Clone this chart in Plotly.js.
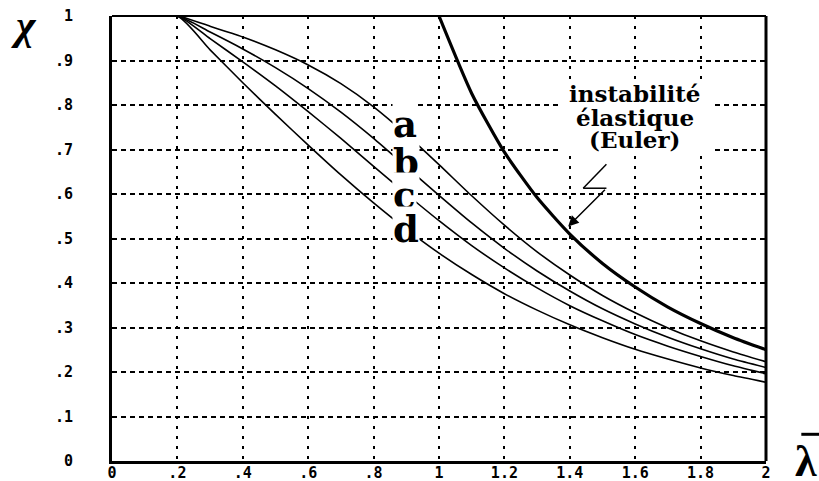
<!DOCTYPE html>
<html>
<head>
<meta charset="utf-8">
<script src="https://cdn.plot.ly/plotly-3.0.1.min.js"></script>
<style>html,body{margin:0;padding:0;background:#fff;}#chart{width:819px;height:481px;}</style>
</head>
<body>
<div id="chart"></div>
<script>
// Relative slenderness (lambda bar)
const lambdaVals = [0, 0.2, 0.3, 0.4, 0.5, 0.6, 0.7, 0.8, 0.9, 1.0, 1.1, 1.2, 1.3, 1.4, 1.5, 1.6, 1.7, 1.8, 1.9, 2.0];
// Reduction factor chi
const curveA = [1, 1, 0.977, 0.953, 0.924, 0.890, 0.848, 0.796, 0.734, 0.666, 0.596, 0.530, 0.470, 0.418, 0.372, 0.333, 0.299, 0.270, 0.245, 0.223];
const curveB = [1, 1, 0.964, 0.926, 0.884, 0.837, 0.784, 0.725, 0.661, 0.597, 0.535, 0.478, 0.427, 0.382, 0.342, 0.308, 0.278, 0.252, 0.229, 0.210];
const curveC = [1, 1, 0.949, 0.897, 0.843, 0.785, 0.725, 0.662, 0.600, 0.540, 0.484, 0.434, 0.389, 0.349, 0.315, 0.284, 0.258, 0.235, 0.214, 0.196];
const curveD = [1, 1, 0.924, 0.850, 0.779, 0.710, 0.643, 0.580, 0.521, 0.467, 0.419, 0.376, 0.339, 0.306, 0.277, 0.251, 0.229, 0.209, 0.192, 0.177];
// Euler elastic instability
const eulerLambda = [1.0, 1.1, 1.2, 1.3, 1.4, 1.5, 1.6, 1.7, 1.8, 1.9, 2.0];
const eulerChi = [1.0, 0.826, 0.694, 0.592, 0.510, 0.444, 0.391, 0.346, 0.309, 0.277, 0.250];

const curveNames = ['a', 'b', 'c', 'd'];
const curveSets = [curveA, curveB, curveC, curveD];
const labelLambda = [0.895, 0.90, 0.895, 0.90];
const labelChi = [0.757, 0.672, 0.598, 0.522];

const xTickVals = [0, 0.2, 0.4, 0.6, 0.8, 1, 1.2, 1.4, 1.6, 1.8, 2];
const xTickText = ['0', '.2', '.4', '.6', '.8', '1', '1.2', '1.4', '1.6', '1.8', '2'];
const yTickVals = [0, 0.1, 0.2, 0.3, 0.4, 0.5, 0.6, 0.7, 0.8, 0.9, 1];
const yTickText = ['0', '.1', '.2', '.3', '.4', '.5', '.6', '.7', '.8', '.9', '1'];

const eulerText = ['instabilité', 'élastique', '(Euler)'];
const eulerTextChi = [0.826, 0.772, 0.722];

const traces = curveSets.map((ys, i) => ({
  x: lambdaVals, y: ys, type: 'scatter', mode: 'lines', name: curveNames[i],
  line: {color: '#000', width: 1.6, shape: 'spline', smoothing: 0.6},
  hoverinfo: 'skip'
}));
traces.push({
  x: eulerLambda, y: eulerChi, type: 'scatter', mode: 'lines', name: 'Euler',
  line: {color: '#000', width: 3.2, shape: 'spline', smoothing: 0.6}, hoverinfo: 'skip'
});

const annotations = [];
curveNames.forEach((n, i) => {
  annotations.push({
    x: labelLambda[i], y: labelChi[i], xref: 'x', yref: 'y', text: n, showarrow: false,
    font: {family: 'DejaVu Serif', size: 37, color: '#000', weight: 'bold'},
    bgcolor: '#fff', borderpad: 0
  });
});
eulerText.forEach((t, i) => {
  annotations.push({
    x: 1.60, y: eulerTextChi[i], xref: 'x', yref: 'y', text: t, showarrow: false,
    font: {family: 'DejaVu Serif', size: 23, color: '#000', weight: 'bold'}
  });
});
// arrow (last segment of the zigzag)
annotations.push({
  x: 1.395, y: 0.527, xref: 'x', yref: 'y', ax: 1.512, ay: 0.613, axref: 'x', ayref: 'y',
  text: '', showarrow: true, arrowhead: 2, arrowsize: 1.4, arrowwidth: 1.5, arrowcolor: '#000'
});
// axis symbols
annotations.push({
  x: -0.158, y: 1.036, xref: 'paper', yref: 'paper', yanchor: 'top', text: 'χ', showarrow: false,
  font: {family: 'Liberation Serif', size: 42, color: '#000', weight: 'bold', style: 'italic'}
});
annotations.push({
  x: 1.081, y: -0.06, xref: 'paper', yref: 'paper', xanchor: 'right', text: 'λ', showarrow: false,
  font: {family: 'Liberation Serif', size: 44, color: '#000', weight: 'bold'}
});

const shapes = [
  // white block behind the Euler text, hiding the grid there
  {type: 'rect', xref: 'x', yref: 'y', x0: 1.37, x1: 1.835, y0: 0.69, y1: 0.856, layer: 'above',
   fillcolor: '#fff', line: {width: 0}},
  {type: 'line', xref: 'paper', yref: 'paper', x0: 0, x1: 1, y0: 1, y1: 1, line: {color: '#000', width: 2}},
  {type: 'line', xref: 'paper', yref: 'paper', x0: 1, x1: 1, y0: 0, y1: 1, line: {color: '#000', width: 3}},
  {type: 'line', xref: 'paper', yref: 'paper', x0: 1.054, x1: 1.085, y0: 0.06, y1: 0.06, line: {color: '#000', width: 3}},
  // zigzag of the lightning arrow
  {type: 'line', xref: 'x', yref: 'y', x0: 1.512, y0: 0.667, x1: 1.441, y1: 0.613, layer: 'above', line: {color: '#000', width: 1.5}},
  {type: 'line', xref: 'x', yref: 'y', x0: 1.441, y0: 0.613, x1: 1.512, y1: 0.613, layer: 'above', line: {color: '#000', width: 1.5}}
];

const tickFont = {family: 'DejaVu Sans Mono', size: 15, color: '#000', weight: 'bold'};

const layout = {
  width: 819, height: 481,
  margin: {l: 112, r: 53, t: 16, b: 20, pad: 0},
  paper_bgcolor: '#fff', plot_bgcolor: '#fff',
  showlegend: false,
  xaxis: {
    range: [0, 2], tickmode: 'array', tickvals: xTickVals, ticktext: xTickText,
    showgrid: true, gridcolor: '#000', gridwidth: 2, griddash: '3px,7px',
    showline: true, linecolor: '#000', linewidth: 3, zeroline: false,
    ticks: '', ticklabelstandoff: -4, tickfont: tickFont, fixedrange: true
  },
  yaxis: {
    range: [0, 1], tickmode: 'array', tickvals: yTickVals, ticktext: yTickText,
    showgrid: true, gridcolor: '#000', gridwidth: 2, griddash: '5px,4px',
    showline: true, linecolor: '#000', linewidth: 3, zeroline: false,
    ticks: '', ticklabelstandoff: 33, tickfont: tickFont, fixedrange: true
  },
  annotations: annotations,
  shapes: shapes
};

Plotly.newPlot('chart', traces, layout, {displayModeBar: false, staticPlot: true});
</script>
</body>
</html>
